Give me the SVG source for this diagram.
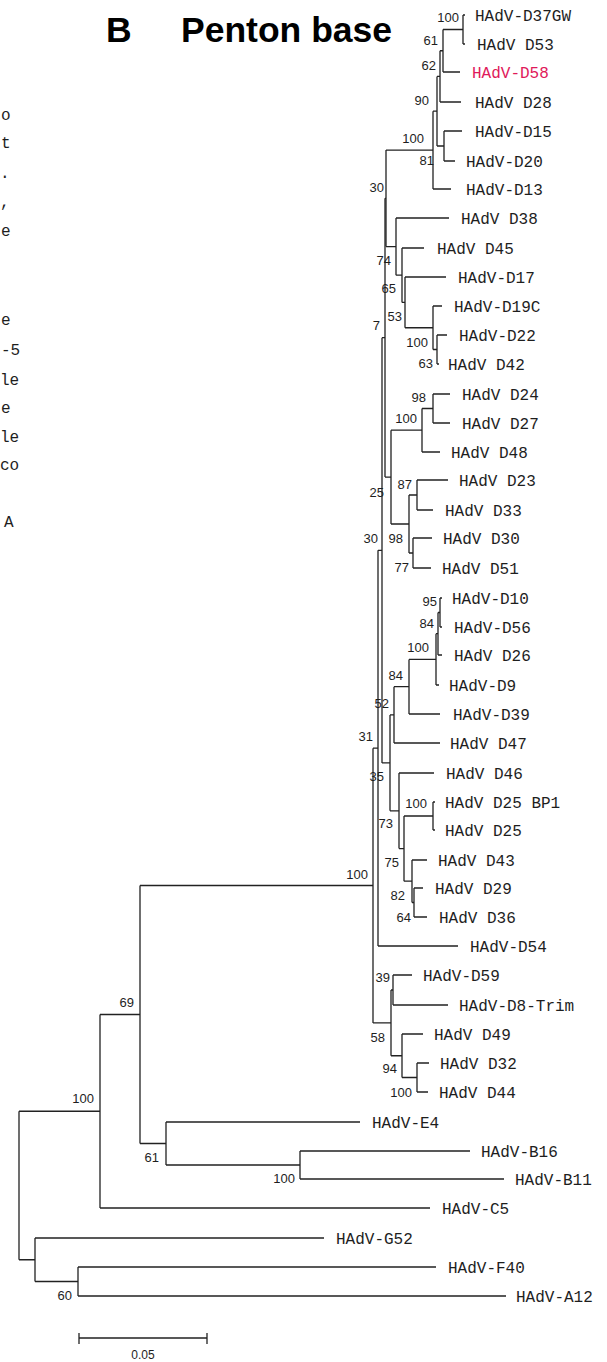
<svg xmlns="http://www.w3.org/2000/svg" width="607" height="1362" viewBox="0 0 607 1362">
<style>
.leaf{font-family:"Liberation Mono","DejaVu Sans Mono",monospace;font-size:16px;fill:#1e1e1e}
.red{fill:#e0195a}
.bs{font-family:"Liberation Sans",Arial,sans-serif;font-size:13px;fill:#1e1e1e;text-anchor:end}
.br{fill:none;stroke:#222;stroke-width:1.3}
.title{font-family:"Liberation Sans",Arial,sans-serif;font-weight:bold;font-size:35.5px;fill:#000}
.frag{font-family:"Liberation Mono",monospace;font-size:16px;fill:#1e1e1e}
</style>
<rect width="607" height="1362" fill="#fff"/>
<g id="title">
<text class="title" x="106" y="42">B</text>
<text class="title" x="181" y="42">Penton base</text>
</g>
<g id="panel-a-fragments">
<text class="frag" x="1" y="120">o</text>
<text class="frag" x="1" y="148">t</text>
<text class="frag" x="0" y="178">.</text>
<text class="frag" x="0" y="207">,</text>
<text class="frag" x="1" y="236">e</text>
<text class="frag" x="1" y="325">e</text>
<text class="frag" x="1" y="355">-5</text>
<text class="frag" x="0" y="385">le</text>
<text class="frag" x="1" y="413">e</text>
<text class="frag" x="0" y="442">le</text>
<text class="frag" x="0" y="470">co</text>
<text class="frag" x="4" y="527">A</text>
</g>
<g id="connectors">
<path class="br" id="n-A" d="M463,15V44M463,15H465M463,44H465"/>
<path class="br" id="n-B" d="M443,29.5V72M443,29.5H463M443,72H460"/>
<path class="br" id="n-C" d="M440,50.75V102M440,50.75H443M440,102H461"/>
<path class="br" id="n-D" d="M444,131V161M444,131H462M444,161H455"/>
<path class="br" id="n-E" d="M437,76.4V146M437,76.4H440M437,146H444"/>
<path class="br" id="n-F" d="M433,111.2V189M433,111.2H437M433,189H451"/>
<path class="br" id="n-2242" d="M437,335V364M437,335H447M437,364H439"/>
<path class="br" id="n-19C" d="M433,306V349.5M433,306H442M433,349.5H437"/>
<path class="br" id="n-17" d="M405,277V327.75M405,277H446M405,327.75H433"/>
<path class="br" id="n-45" d="M402,248V302.4M402,248H424M402,302.4H405"/>
<path class="br" id="n-38" d="M396,218V275.2M396,218H449M396,275.2H402"/>
<path class="br" id="n-G" d="M386,150.1V246.6M386,150.1H433M386,246.6H396"/>
<path class="br" id="n-2427" d="M433,394V423M433,394H450M433,423H450"/>
<path class="br" id="n-48" d="M422,408.5V452M422,408.5H433M422,452H440"/>
<path class="br" id="n-2333" d="M417,480V510M417,480H448M417,510H433"/>
<path class="br" id="n-3051" d="M413,538V568M413,538H432M413,568H431"/>
<path class="br" id="n-2351" d="M409,495V553M409,495H417M409,553H413"/>
<path class="br" id="n-2448" d="M391,430.2V524M391,430.2H422M391,524H409"/>
<path class="br" id="n-7" d="M385,198.3V477.1M385,198.3H386M385,477.1H391"/>
<path class="br" id="n-1056" d="M440,598V627M440,598H442M440,627H442"/>
<path class="br" id="n-26" d="M438,612.5V655M438,612.5H440M438,655H442"/>
<path class="br" id="n-9" d="M436,633.7V685M436,633.7H438M436,685H439"/>
<path class="br" id="n-39" d="M409,659.4V714M409,659.4H436M409,714H440"/>
<path class="br" id="n-47" d="M394,686.7V743M394,686.7H409M394,743H440"/>
<path class="br" id="n-25" d="M433,802V830M433,802H435M433,830H435"/>
<path class="br" id="n-2936" d="M414,888V917M414,888H423M414,917H427"/>
<path class="br" id="n-43" d="M412,860V902.5M412,860H427M412,902.5H414"/>
<path class="br" id="n-2543" d="M404,816V881.2M404,816H433M404,881.2H412"/>
<path class="br" id="n-46" d="M399,773V848.6M399,773H434M399,848.6H404"/>
<path class="br" id="n-52" d="M390,714.9V810.8M390,714.9H394M390,810.8H399"/>
<path class="br" id="n-31" d="M382,337.7V762.9M382,337.7H385M382,762.9H390"/>
<path class="br" id="n-54" d="M378,550.3V946M378,550.3H382M378,946H458"/>
<path class="br" id="n-5908" d="M393,975V1005M393,975H412M393,1005H448"/>
<path class="br" id="n-3244" d="M417,1063V1092M417,1063H429M417,1092H428"/>
<path class="br" id="n-4944" d="M402,1034V1077.5M402,1034H423M402,1077.5H417"/>
<path class="br" id="n-X" d="M391,990V1055.75M391,990H393M391,1055.75H402"/>
<path class="br" id="n-100" d="M373,748.2V1022.9M373,748.2H378M373,1022.9H391"/>
<path class="br" id="n-B1611" d="M300,1151V1179M300,1151H470M300,1179H504"/>
<path class="br" id="n-E4" d="M166,1122V1165M166,1122H360M166,1165H300"/>
<path class="br" id="n-69" d="M140,885.5V1143.5M140,885.5H373M140,1143.5H166"/>
<path class="br" id="n-C5" d="M100,1014.5V1208M100,1014.5H140M100,1208H430"/>
<path class="br" id="n-FA" d="M78,1267V1296M78,1267H436M78,1296H506"/>
<path class="br" id="n-G52" d="M35,1238V1281.5M35,1238H324M35,1281.5H78"/>
<path class="br" id="n-root" d="M19,1111.25V1259.75M19,1111.25H100M19,1259.75H35"/>
</g>
<g id="support-values">
<text class="bs" x="459" y="22">100</text>
<text class="bs" x="438" y="45">61</text>
<text class="bs" x="436" y="70">62</text>
<text class="bs" x="429" y="105">90</text>
<text class="bs" x="424" y="143">100</text>
<text class="bs" x="434" y="165">81</text>
<text class="bs" x="384" y="192">30</text>
<text class="bs" x="391" y="265">74</text>
<text class="bs" x="396" y="293">65</text>
<text class="bs" x="402" y="321">53</text>
<text class="bs" x="380" y="330">7</text>
<text class="bs" x="428" y="347">100</text>
<text class="bs" x="433" y="368">63</text>
<text class="bs" x="426" y="402">98</text>
<text class="bs" x="417" y="423">100</text>
<text class="bs" x="412" y="489">87</text>
<text class="bs" x="384" y="497">25</text>
<text class="bs" x="378" y="543">30</text>
<text class="bs" x="403" y="543">98</text>
<text class="bs" x="409" y="572">77</text>
<text class="bs" x="437" y="606">95</text>
<text class="bs" x="434" y="628">84</text>
<text class="bs" x="429" y="652">100</text>
<text class="bs" x="403" y="680">84</text>
<text class="bs" x="389" y="708">52</text>
<text class="bs" x="373" y="741">31</text>
<text class="bs" x="384" y="781">35</text>
<text class="bs" x="427" y="808">100</text>
<text class="bs" x="393" y="828">73</text>
<text class="bs" x="399" y="867">75</text>
<text class="bs" x="368" y="879">100</text>
<text class="bs" x="405" y="900">82</text>
<text class="bs" x="411" y="922">64</text>
<text class="bs" x="390" y="982">39</text>
<text class="bs" x="134" y="1007">69</text>
<text class="bs" x="385" y="1042">58</text>
<text class="bs" x="397" y="1073">94</text>
<text class="bs" x="412" y="1097">100</text>
<text class="bs" x="94" y="1103">100</text>
<text class="bs" x="159" y="1162">61</text>
<text class="bs" x="295" y="1183">100</text>
<text class="bs" x="72" y="1300">60</text>
</g>
<g id="leaf-D37GW"><text class="leaf" x="475" y="20.5">HAdV-D37GW</text></g>
<g id="leaf-D53"><text class="leaf" x="477" y="49.5">HAdV D53</text></g>
<g id="leaf-D58"><text class="leaf red" x="472" y="77.5">HAdV-D58</text></g>
<g id="leaf-D28"><text class="leaf" x="475" y="107.5">HAdV D28</text></g>
<g id="leaf-D15"><text class="leaf" x="475" y="136.5">HAdV-D15</text></g>
<g id="leaf-D20"><text class="leaf" x="466" y="166.5">HAdV-D20</text></g>
<g id="leaf-D13"><text class="leaf" x="466" y="194.5">HAdV-D13</text></g>
<g id="leaf-D38"><text class="leaf" x="461" y="223.5">HAdV D38</text></g>
<g id="leaf-D45"><text class="leaf" x="437" y="253.5">HAdV D45</text></g>
<g id="leaf-D17"><text class="leaf" x="458" y="282.5">HAdV-D17</text></g>
<g id="leaf-D19C"><text class="leaf" x="454" y="311.5">HAdV-D19C</text></g>
<g id="leaf-D22"><text class="leaf" x="459" y="340.5">HAdV-D22</text></g>
<g id="leaf-D42"><text class="leaf" x="448" y="369.5">HAdV D42</text></g>
<g id="leaf-D24"><text class="leaf" x="462" y="399.5">HAdV D24</text></g>
<g id="leaf-D27"><text class="leaf" x="462" y="428.5">HAdV D27</text></g>
<g id="leaf-D48"><text class="leaf" x="451" y="457.5">HAdV D48</text></g>
<g id="leaf-D23"><text class="leaf" x="459" y="485.5">HAdV D23</text></g>
<g id="leaf-D33"><text class="leaf" x="445" y="515.5">HAdV D33</text></g>
<g id="leaf-D30"><text class="leaf" x="443" y="543.5">HAdV D30</text></g>
<g id="leaf-D51"><text class="leaf" x="442" y="573.5">HAdV D51</text></g>
<g id="leaf-D10"><text class="leaf" x="452" y="603.5">HAdV-D10</text></g>
<g id="leaf-D56"><text class="leaf" x="454" y="632.5">HAdV-D56</text></g>
<g id="leaf-D26"><text class="leaf" x="454" y="660.5">HAdV D26</text></g>
<g id="leaf-D9"><text class="leaf" x="449" y="690.5">HAdV-D9</text></g>
<g id="leaf-D39"><text class="leaf" x="453" y="719.5">HAdV-D39</text></g>
<g id="leaf-D47"><text class="leaf" x="450" y="748.5">HAdV D47</text></g>
<g id="leaf-D46"><text class="leaf" x="446" y="778.5">HAdV D46</text></g>
<g id="leaf-D25BP1"><text class="leaf" x="445" y="807.5">HAdV D25 BP1</text></g>
<g id="leaf-D25"><text class="leaf" x="445" y="835.5">HAdV D25</text></g>
<g id="leaf-D43"><text class="leaf" x="438" y="865.5">HAdV D43</text></g>
<g id="leaf-D29"><text class="leaf" x="435" y="893.5">HAdV D29</text></g>
<g id="leaf-D36"><text class="leaf" x="439" y="922.5">HAdV D36</text></g>
<g id="leaf-D54"><text class="leaf" x="470" y="951.5">HAdV-D54</text></g>
<g id="leaf-D59"><text class="leaf" x="423" y="980.5">HAdV-D59</text></g>
<g id="leaf-D8-Trim"><text class="leaf" x="459" y="1010.5">HAdV-D8-Trim</text></g>
<g id="leaf-D49"><text class="leaf" x="434" y="1039.5">HAdV D49</text></g>
<g id="leaf-D32"><text class="leaf" x="440" y="1068.5">HAdV D32</text></g>
<g id="leaf-D44"><text class="leaf" x="439" y="1097.5">HAdV D44</text></g>
<g id="leaf-E4"><text class="leaf" x="372" y="1127.5">HAdV-E4</text></g>
<g id="leaf-B16"><text class="leaf" x="481" y="1156.5">HAdV-B16</text></g>
<g id="leaf-B11"><text class="leaf" x="515" y="1184.5">HAdV-B11</text></g>
<g id="leaf-C5"><text class="leaf" x="442" y="1213.5">HAdV-C5</text></g>
<g id="leaf-G52"><text class="leaf" x="336" y="1243.5">HAdV-G52</text></g>
<g id="leaf-F40"><text class="leaf" x="448" y="1272.5">HAdV-F40</text></g>
<g id="leaf-A12"><text class="leaf" x="516" y="1301.5">HAdV-A12</text></g>
<g id="scale-bar">
<path class="br" d="M79,1338H207M79,1333V1344M207,1333V1344"/>
<text class="bs" x="143" y="1359" style="text-anchor:middle;font-size:12px">0.05</text>
</g>
</svg>
